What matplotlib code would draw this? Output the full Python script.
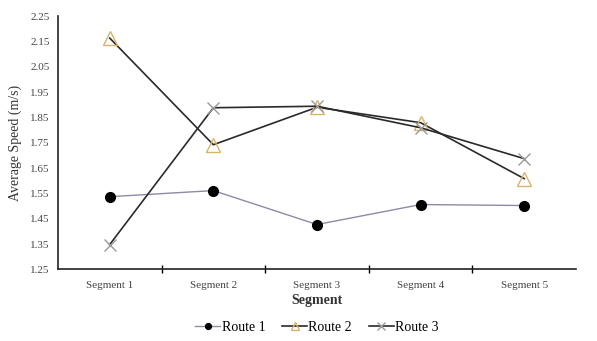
import matplotlib.pyplot as plt
import numpy as np

plt.rcParams['font.family'] = ['Liberation Serif', 'DejaVu Serif']

# Data
segments = ["Segment 1", "Segment 2", "Segment 3", "Segment 4", "Segment 5"]
route1 = [1.537, 1.561, 1.427, 1.506, 1.502]
route2 = [2.163, 1.742, 1.890, 1.829, 1.608]
route3 = [1.348, 1.888, 1.894, 1.809, 1.687]
yticks = [1.25, 1.35, 1.45, 1.55, 1.65, 1.75, 1.85, 1.95, 2.05, 2.15, 2.25]

fig, ax = plt.subplots(figsize=(5.97, 3.41), dpi=100)
fig.subplots_adjust(left=0.097, right=0.965, top=0.953, bottom=0.21)

x = np.arange(len(segments))

ax.plot(x, route1, color="#8c8ca6", lw=1.0, marker="o", ms=7,
        mfc="black", mec="black", label="Route 1")
ax.plot(x, route2, color="#2a2a2a", lw=1.2, marker="^", ms=10,
        mfc="none", mec="#d6b46c", mew=1.0, label="Route 2")
ax.plot(x, route3, color="#2a2a2a", lw=1.2, marker="x", ms=9,
        mec="#9a9a9a", mew=1.0, label="Route 3")

ax.set_xlim(-0.5, len(segments) - 0.5)
ax.set_ylim(1.25, 2.25)
ax.set_yticks(yticks)
ax.set_yticklabels([f"{v:.2f}" for v in yticks], fontsize=8, color="#444444")
ax.tick_params(axis="y", length=0, pad=6)

ax.set_xticks(x)
ax.set_xticklabels(segments, fontsize=8, color="#444444")
ax.tick_params(axis="x", length=0, pad=8)
ax.set_xticks(np.arange(0.5, len(segments) - 0.5), minor=True)
ax.tick_params(axis="x", which="minor", length=6, direction="inout", width=1.0)

for s in ["top", "right"]:
    ax.spines[s].set_visible(False)
for s in ["left", "bottom"]:
    ax.spines[s].set_linewidth(1.2)
    ax.spines[s].set_color("#222222")

ax.set_xlabel("Segment", fontsize=10, fontweight="bold", color="#333333", labelpad=3)
ax.set_ylabel("Average Speed (m/s)", fontsize=10, color="#333333", labelpad=6)

ax.legend(loc="center", bbox_to_anchor=(0.5, -0.228), ncol=3, frameon=False,
          fontsize=10, handlelength=1.8, handletextpad=0.1, columnspacing=1.2,
          markerscale=0.6)

plt.savefig("out.png", dpi=100)
